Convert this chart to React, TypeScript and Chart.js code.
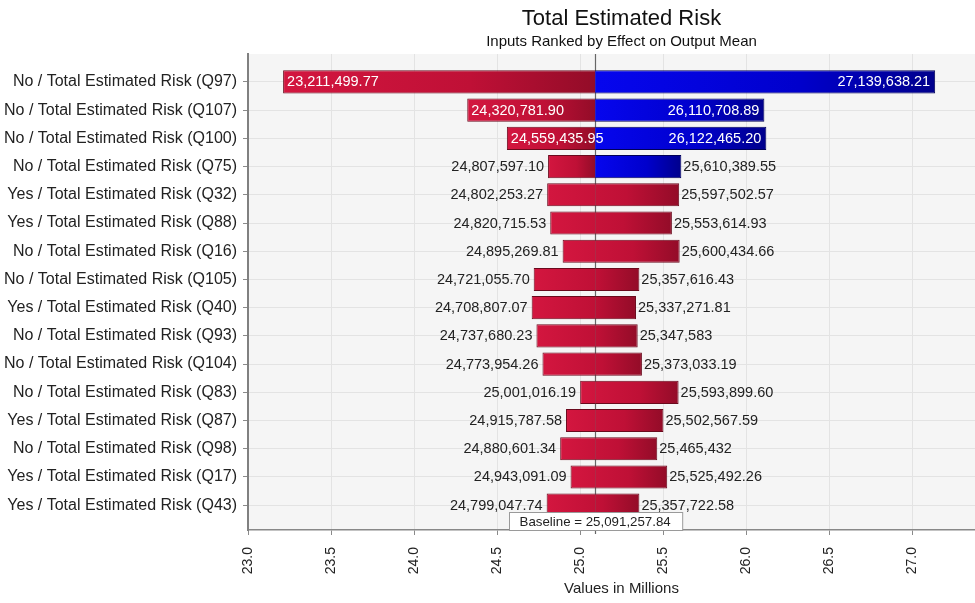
import React, { useEffect, useRef } from "react";
import { Chart, registerables } from "chart.js";

Chart.register(...registerables);

const TITLE = "Total Estimated Risk";
const SUBTITLE = "Inputs Ranked by Effect on Output Mean";
const X_TITLE = "Values in Millions";

const categories = [
  "No / Total Estimated Risk (Q97)",
  "No / Total Estimated Risk (Q107)",
  "No / Total Estimated Risk (Q100)",
  "No / Total Estimated Risk (Q75)",
  "Yes / Total Estimated Risk (Q32)",
  "Yes / Total Estimated Risk (Q88)",
  "No / Total Estimated Risk (Q16)",
  "No / Total Estimated Risk (Q105)",
  "Yes / Total Estimated Risk (Q40)",
  "No / Total Estimated Risk (Q93)",
  "No / Total Estimated Risk (Q104)",
  "No / Total Estimated Risk (Q83)",
  "Yes / Total Estimated Risk (Q87)",
  "No / Total Estimated Risk (Q98)",
  "Yes / Total Estimated Risk (Q17)",
  "Yes / Total Estimated Risk (Q43)",
];

const lowValues = [
  23211499.77, 24320781.9, 24559435.95, 24807597.1, 24802253.27, 24820715.53,
  24895269.81, 24721055.7, 24708807.07, 24737680.23, 24773954.26, 25001016.19,
  24915787.58, 24880601.34, 24943091.09, 24799047.74,
];

const highValues = [
  27139638.21, 26110708.89, 26122465.2, 25610389.55, 25597502.57, 25553614.93,
  25600434.66, 25357616.43, 25337271.81, 25347583, 25373033.19, 25593899.6,
  25502567.59, 25465432, 25525492.26, 25357722.58,
];

// which colour the upper side of each bar takes
const highSide = [
  "blue", "blue", "blue", "blue", "red", "red", "red", "red",
  "red", "red", "red", "red", "red", "red", "red", "red",
];

const BASELINE = 25091257.84;

const X_MIN = 23;
const X_MAX = 27.5;
const X_STEP = 0.5;

const FONT = "'Liberation Sans', Arial, sans-serif";
const TEXT = "#222222";

const RED_LIGHT = "#d3163f";
const RED_DARK = "#930c28";
const RED_BORDER = "#6a0a1d";
const BLUE_LIGHT = "#0606ee";
const BLUE_DARK = "#00008c";
const BLUE_BORDER = "#000058";

function fmt(v: number): string {
  const isInt = Number.isInteger(v);
  return v.toLocaleString("en-US", {
    minimumFractionDigits: isInt ? 0 : 2,
    maximumFractionDigits: 2,
  });
}

export default function App() {
  const canvasRef = useRef<HTMLCanvasElement | null>(null);

  useEffect(() => {
    const canvas = canvasRef.current;
    if (!canvas) return;

    const base = BASELINE / 1e6;

    const redGradient = (chart: any, i: number) => {
      const xs = chart.scales.x;
      if (!xs) return RED_LIGHT;
      const x0 = xs.getPixelForValue(lowValues[i] / 1e6);
      const redEnd = highSide[i] === "red" ? highValues[i] / 1e6 : base;
      const x1 = xs.getPixelForValue(redEnd);
      if (!isFinite(x0) || !isFinite(x1) || x1 <= x0) return RED_LIGHT;
      const g = chart.ctx.createLinearGradient(x0, 0, x1, 0);
      g.addColorStop(0, RED_LIGHT);
      g.addColorStop(0.6, "#bf1036");
      g.addColorStop(1, RED_DARK);
      return g;
    };

    const blueGradient = (chart: any, i: number) => {
      const xs = chart.scales.x;
      if (!xs) return BLUE_LIGHT;
      const x0 = xs.getPixelForValue(base);
      const x1 = xs.getPixelForValue(highValues[i] / 1e6);
      if (!isFinite(x0) || !isFinite(x1) || x1 <= x0) return BLUE_LIGHT;
      const g = chart.ctx.createLinearGradient(x0, 0, x1, 0);
      g.addColorStop(0, BLUE_LIGHT);
      g.addColorStop(0.6, "#0000cc");
      g.addColorStop(1, BLUE_DARK);
      return g;
    };

    const plotBg = {
      id: "plotBg",
      beforeDraw(chart: any) {
        const { ctx, chartArea } = chart;
        if (!chartArea) return;
        ctx.save();
        ctx.fillStyle = "#f5f5f5";
        ctx.fillRect(
          chartArea.left,
          chartArea.top,
          chartArea.right - chartArea.left,
          chartArea.bottom - chartArea.top
        );
        ctx.restore();
      },
    };

    const baselineLine = {
      id: "baselineLine",
      beforeDatasetsDraw(chart: any) {
        const { ctx, chartArea } = chart;
        const x = Math.round(chart.scales.x.getPixelForValue(base)) + 0.5;
        ctx.save();
        ctx.strokeStyle = "#666666";
        ctx.lineWidth = 1.2;
        ctx.beginPath();
        ctx.moveTo(x, chartArea.top);
        ctx.lineTo(x, chartArea.bottom + 4);
        ctx.stroke();
        ctx.restore();
      },
    };

    const valueLabels = {
      id: "valueLabels",
      afterDatasetsDraw(chart: any) {
        const { ctx } = chart;
        const xs = chart.scales.x;
        const ys = chart.scales.y;
        ctx.save();
        ctx.font = `14.5px ${FONT}`;
        ctx.textBaseline = "middle";
        for (let i = 0; i < categories.length; i++) {
          const y = ys.getPixelForValue(i) + 0.5;
          const xl = xs.getPixelForValue(lowValues[i] / 1e6);
          const xh = xs.getPixelForValue(highValues[i] / 1e6);
          const lt = fmt(lowValues[i]);
          const ht = fmt(highValues[i]);
          const wl = ctx.measureText(lt).width;
          const wh = ctx.measureText(ht).width;
          const inside = xh - xl > wl + wh + 40;
          if (inside) {
            ctx.fillStyle = "#ffffff";
            ctx.textAlign = "left";
            ctx.fillText(lt, xl + 4, y);
            ctx.textAlign = "right";
            ctx.fillText(ht, xh - 5, y);
          } else {
            ctx.fillStyle = TEXT;
            ctx.textAlign = "right";
            ctx.fillText(lt, xl - 4, y);
            ctx.textAlign = "left";
            ctx.fillText(ht, xh + 2, y);
          }
        }
        ctx.restore();
      },
      afterDraw(chart: any) {
        const { ctx, chartArea } = chart;
        const x = chart.scales.x.getPixelForValue(base);
        const text = "Baseline = " + fmt(BASELINE);
        ctx.save();
        ctx.font = `13.3px ${FONT}`;
        const w = ctx.measureText(text).width + 22;
        const h = 18;
        const bx = Math.round(x - w / 2) + 0.5;
        const by = Math.round(chartArea.bottom - h) + 0.5;
        ctx.fillStyle = "#ffffff";
        ctx.fillRect(bx, by, w, h);
        ctx.strokeStyle = "#9a9a9a";
        ctx.lineWidth = 1;
        ctx.strokeRect(bx, by, w, h);
        ctx.fillStyle = TEXT;
        ctx.textAlign = "center";
        ctx.textBaseline = "middle";
        ctx.fillText(text, x, by + h / 2 + 0.5);
        ctx.restore();
      },
    };

    const chart = new Chart(canvas, {
      type: "bar",
      data: {
        datasets: [
          {
            label: "low",
            data: lowValues.map((v, i) => ({ y: i, x: [v / 1e6, base] })) as any,
            backgroundColor: (c: any) => redGradient(c.chart, c.dataIndex),
            borderColor: RED_BORDER,
            borderWidth: 1,
            borderSkipped: "right",
            grouped: false,
            barPercentage: 0.82,
            categoryPercentage: 1,
          } as any,
          {
            label: "high",
            data: highValues.map((v, i) => ({ y: i, x: [base, v / 1e6] })) as any,
            backgroundColor: (c: any) =>
              highSide[c.dataIndex] === "blue"
                ? blueGradient(c.chart, c.dataIndex)
                : redGradient(c.chart, c.dataIndex),
            borderColor: (c: any) =>
              highSide[c.dataIndex] === "blue" ? BLUE_BORDER : RED_BORDER,
            borderWidth: 1,
            borderSkipped: "left",
            grouped: false,
            barPercentage: 0.82,
            categoryPercentage: 1,
          } as any,
        ],
      },
      options: {
        indexAxis: "y",
        responsive: false,
        animation: false,
        layout: { padding: { left: 0, right: 5, top: 0, bottom: 0 } },
        plugins: {
          legend: { display: false },
          tooltip: { enabled: false },
          title: {
            display: true,
            text: TITLE,
            fullSize: false,
            color: "#111111",
            font: { family: FONT, size: 22, weight: "normal" },
            padding: { top: 6, bottom: 0 },
          } as any,
          subtitle: {
            display: true,
            text: SUBTITLE,
            fullSize: false,
            color: "#111111",
            font: { family: FONT, size: 15, weight: "normal" },
            padding: { top: 0, bottom: 3.6 },
          } as any,
        },
        scales: {
          x: {
            type: "linear",
            min: X_MIN,
            max: X_MAX,
            offset: false,
            afterFit: (s: any) => {
              s.height = 73;
              s.paddingLeft = 0;
              s.paddingRight = 0;
            },
            ticks: {
              stepSize: X_STEP,
              minRotation: 90,
              maxRotation: 90,
              padding: 12,
              color: TEXT,
              font: { family: FONT, size: 14 },
              callback: (v: any) => Number(v).toFixed(1),
            },
            grid: {
              offset: false,
              color: "#e3e3e3",
              tickColor: "#8a8a8a",
              tickLength: 5,
            },
            border: { color: "#888888", width: 1.5 },
            title: {
              display: true,
              text: X_TITLE,
              color: TEXT,
              font: { family: FONT, size: 15 },
              padding: { top: 2, bottom: 5 },
            },
          },
          y: {
            type: "linear",
            reverse: true,
            offset: false,
            min: -0.99,
            max: 15.88,
            afterFit: (s: any) => {
              s.width = 248;
              s.paddingTop = 0;
              s.paddingBottom = 0;
            },
            afterBuildTicks: (s: any) => {
              s.ticks = categories.map((_, i) => ({ value: i }));
            },
            ticks: {
              padding: 6,
              color: TEXT,
              autoSkip: false,
              font: { family: FONT, size: 16 },
              callback: (v: any) => categories[Number(v)] ?? "",
            },
            grid: {
              offset: false,
              color: "#e3e3e3",
              tickColor: "#8a8a8a",
              tickLength: 5,
            },
            border: { color: "#808080", width: 2 },
          },
        },
      } as any,
      plugins: [plotBg, baselineLine, valueLabels],
    });

    return () => {
      chart.destroy();
    };
  }, []);

  return (
    <div
      style={{
        position: "fixed",
        left: 0,
        top: 0,
        width: 975,
        height: 603,
        overflow: "hidden",
        background: "#ffffff",
      }}
    >
      <canvas ref={canvasRef} width={1000} height={603} style={{ display: "block" }} />
    </div>
  );
}
